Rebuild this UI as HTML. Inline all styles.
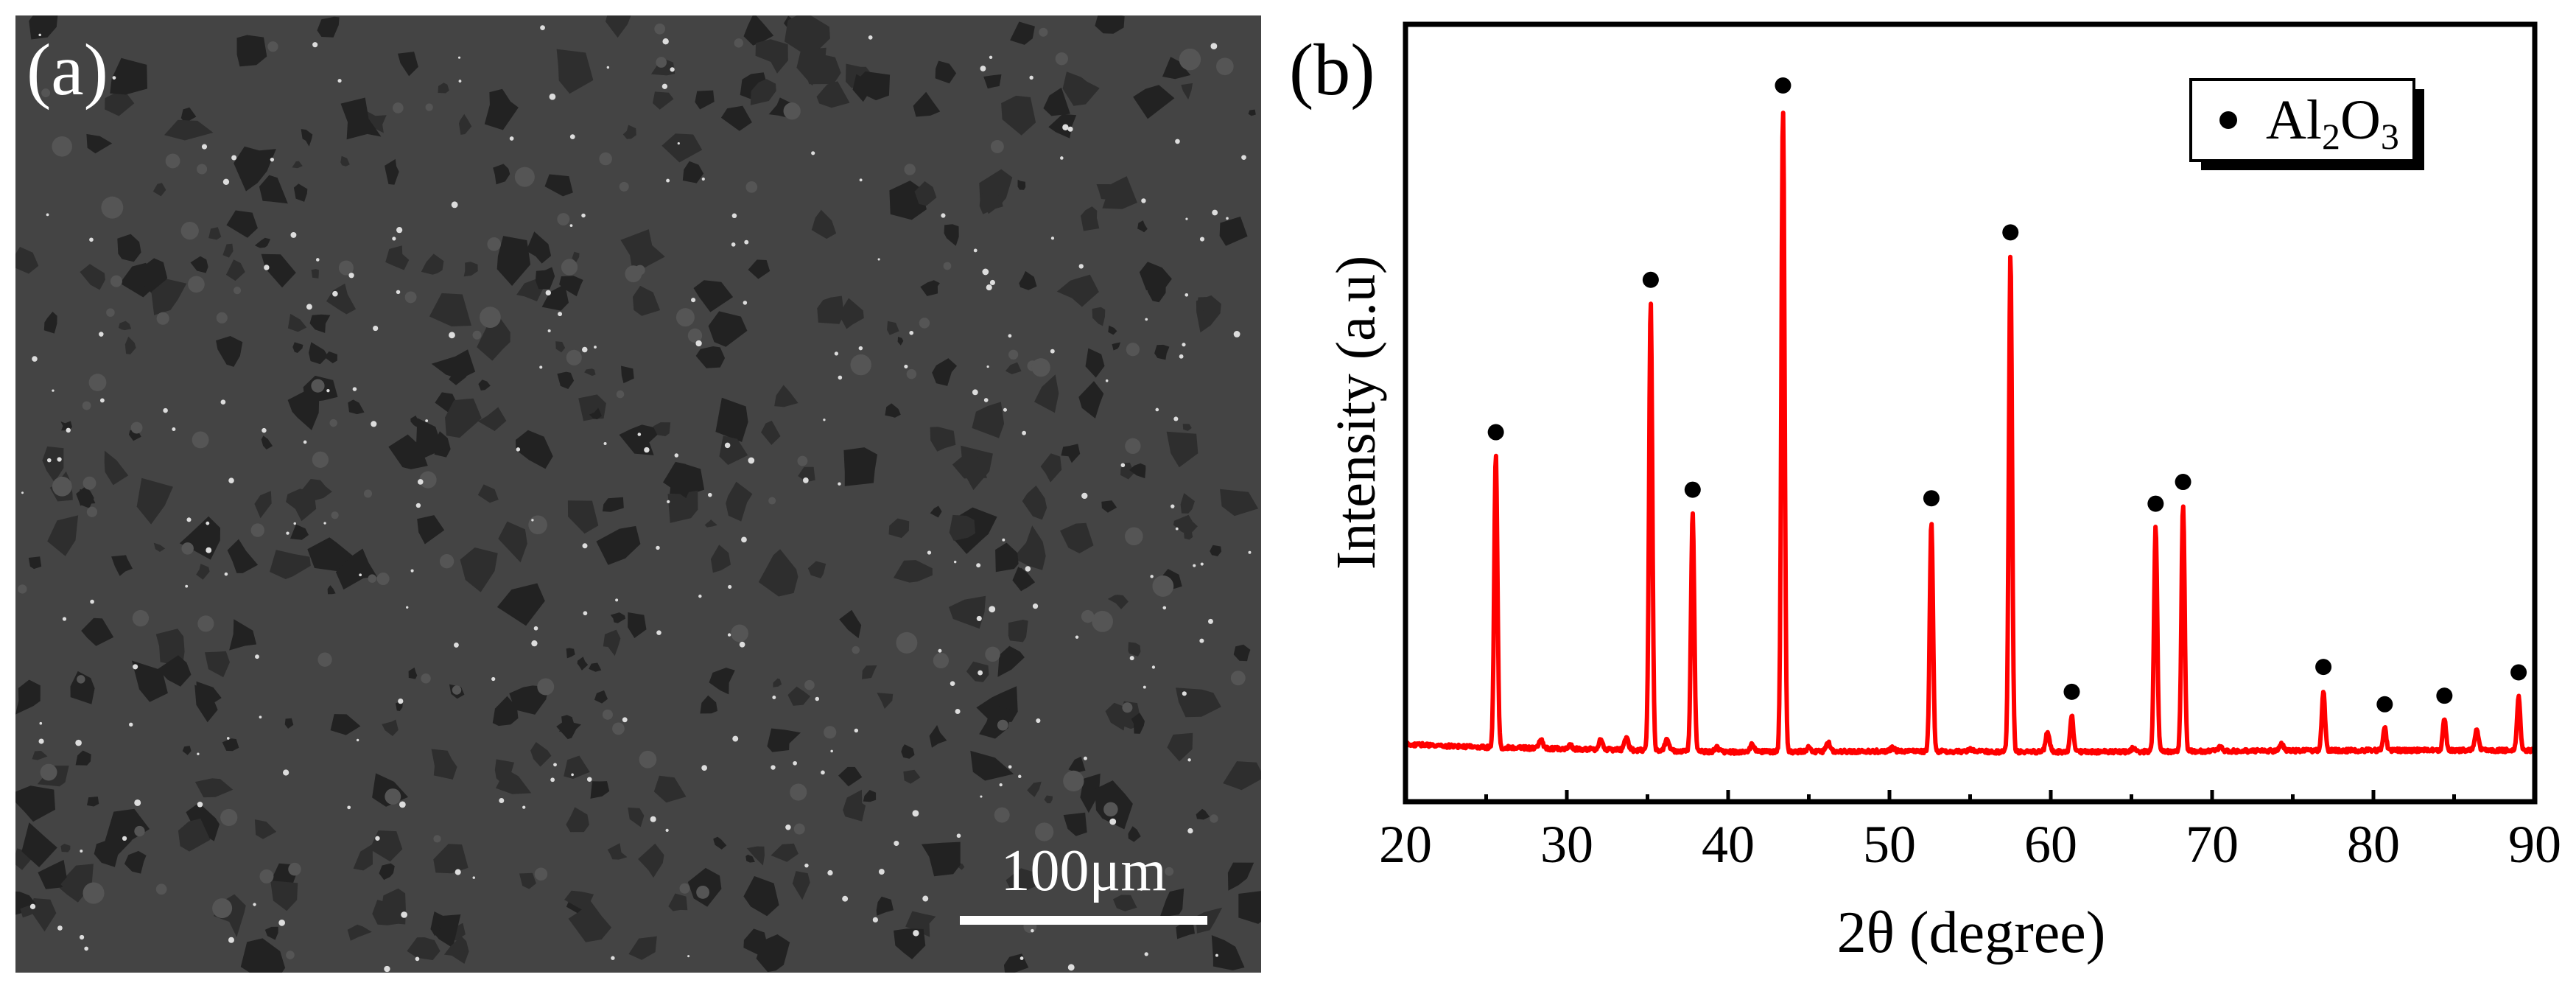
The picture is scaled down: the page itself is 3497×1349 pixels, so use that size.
<!DOCTYPE html>
<html><head><meta charset="utf-8"><style>
html,body{margin:0;padding:0;background:#fff;}
body{width:3497px;height:1349px;overflow:hidden;position:relative;font-family:"Liberation Serif",serif;}
svg text{font-family:"Liberation Serif",serif;}
</style></head><body>
<svg id="fig" width="3497" height="1349" viewBox="0 0 3497 1349" xmlns="http://www.w3.org/2000/svg" style="position:absolute;left:0;top:0" font-family="Liberation Serif, serif">
  <defs><clipPath id="semclip"><rect x="21" y="21" width="1691" height="1299"/></clipPath></defs>
  <g id="sem">
    <rect x="21" y="21" width="1691" height="1299" fill="#444444"/>
    <g id="semtex" clip-path="url(#semclip)"></g>
    <text x="36" y="128" font-size="100" fill="#fff">(a)</text>
    <text x="1471" y="1208" font-size="80" fill="#fff" text-anchor="middle">100μm</text>
    <rect x="1303" y="1243" width="336" height="12" fill="#fff"/>
  </g>
  <text x="1750" y="128" font-size="100" fill="#000">(b)</text>
  <g id="chart"></g>
  <rect x="1908" y="33" width="1533" height="1055" fill="none" stroke="#000" stroke-width="7"/>
  <text x="2676" y="1292" font-size="80" text-anchor="middle">2θ (degree)</text>
  <text transform="translate(1866,560) rotate(-90)" font-size="76" text-anchor="middle">Intensity (a.u)</text>
  <g>
    <rect x="2988" y="121" width="303" height="110" fill="#000"/>
    <rect x="2974" y="108" width="303" height="110" fill="#fff" stroke="#000" stroke-width="4"/>
    <circle cx="3025" cy="163" r="12" fill="#000"/>
    <text x="3076" y="188" font-size="76">Al<tspan font-size="50" dy="14">2</tspan><tspan dy="-14">O</tspan><tspan font-size="50" dy="14">3</tspan></text>
  </g>
</svg>
<script>
// ---- XRD data ----
const peakPos = [25.6, 35.2, 37.8, 43.4, 52.6, 57.5, 61.3, 66.5, 68.2, 76.9, 80.7, 84.4, 89.0];
const peakHeight = [44.5, 64.1, 37.1, 89.1, 36.0, 70.2, 11.1, 35.3, 38.1, 14.3, 9.5, 10.6, 13.6];
const minorPos = [28.4, 30.2, 32.1, 33.7, 36.2, 39.3, 41.5, 45.0, 46.2, 50.2, 55.0, 59.8, 65.1, 70.5, 74.3, 86.4];
const minorHeight = [7.9, 7.3, 7.9, 8.2, 8.0, 7.0, 7.4, 7.0, 7.6, 6.9, 6.8, 8.9, 6.9, 7.0, 7.5, 9.2];
const baseX = [20, 22, 25, 30, 40, 50, 60, 70, 80, 90];
const baseY = [7.4, 7.2, 7.0, 6.8, 6.4, 6.5, 6.4, 6.5, 6.6, 6.6];
const xTicks = [20, 30, 40, 50, 60, 70, 80, 90];
const xTickLabels = ["20", "30", "40", "50", "60", "70", "80", "90"];

const NS = "http://www.w3.org/2000/svg";
const X0 = 1908, X1 = 3441, Y0 = 1088, Y1 = 33;
const xs = v => X0 + (v - 20) / 70 * (X1 - X0);
const ys = v => Y0 - v / 100 * (Y0 - Y1);
const chart = document.getElementById('chart');

function base(x) {
  for (let i = 0; i < baseX.length - 1; i++) {
    if (x <= baseX[i + 1]) {
      const t = (x - baseX[i]) / (baseX[i + 1] - baseX[i]);
      return baseY[i] + t * (baseY[i + 1] - baseY[i]);
    }
  }
  return baseY[baseY.length - 1];
}
function intensity(x) {
  const b = base(x);
  let v = b;
  for (let i = 0; i < peakPos.length; i++) {
    const d = (x - peakPos[i]) / 0.1;
    v += (peakHeight[i] - base(peakPos[i])) * Math.exp(-d * d / 2);
  }
  for (let i = 0; i < minorPos.length; i++) {
    const d = (x - minorPos[i]) / 0.12;
    v += (minorHeight[i] - base(minorPos[i])) * Math.exp(-d * d / 2);
  }
  return v;
}
let nseed = 777;
function nz() { nseed = (nseed * 1103515245 + 12345) % 2147483648; return nseed / 2147483648 - 0.5; }
let pts = [];
for (let x = 20.05; x <= 89.95; x += 0.04) {
  pts.push(xs(x).toFixed(1) + "," + (ys(intensity(x)) + nz() * 5).toFixed(1));
}
const line = document.createElementNS(NS, 'polyline');


line.setAttribute('points', pts.join(' '));
line.setAttribute('fill', 'none');
line.setAttribute('stroke', '#f00');
line.setAttribute('stroke-width', '6');
line.setAttribute('stroke-linejoin', 'round');
chart.appendChild(line);

for (let i = 0; i < peakPos.length; i++) {
  const c = document.createElementNS(NS, 'circle');
  
  
  c.setAttribute('cx', xs(peakPos[i]));
  c.setAttribute('cy', ys(peakHeight[i]) - 32);
  c.setAttribute('r', 11);
  c.setAttribute('fill', '#000');
  chart.appendChild(c);
}
for (let v = 20; v <= 90; v += 5) {
  const major = v % 10 === 0;
  const t = document.createElementNS(NS, 'line');
  
  
  t.setAttribute('x1', xs(v)); t.setAttribute('x2', xs(v));
  t.setAttribute('y1', Y0); t.setAttribute('y2', Y0 - (major ? 16 : 10));
  t.setAttribute('stroke', '#000'); t.setAttribute('stroke-width', '5');
  chart.appendChild(t);
}
for (let i = 0; i < xTicks.length; i++) {
  const tx = document.createElementNS(NS, 'text');
  
  
  tx.setAttribute('x', xs(xTicks[i]));
  tx.setAttribute('y', 1170);
  tx.setAttribute('font-size', '72');
  tx.setAttribute('font-family', 'Liberation Serif, serif');
  tx.setAttribute('text-anchor', 'middle');
  tx.textContent = xTickLabels[i];
  chart.appendChild(tx);
}

// ---- SEM texture (decorative) ----
const tex = document.getElementById('semtex');
let seed = 12345;
function rnd() { seed = (seed * 1103515245 + 12345) % 2147483648; return seed / 2147483648; }
function add(tag, attrs, name) {
  const e = document.createElementNS(NS, tag);
  for (const k in attrs) e.setAttribute(k, attrs[k]);
  
  
  tex.appendChild(e);
}
for (let i = 0; i < 380; i++) {
  const cx = 25 + rnd() * 1680, cy = 25 + rnd() * 1290, r = 6 + rnd() * 24;
  let p = [];
  const n = 5 + Math.floor(rnd() * 3);
  for (let k = 0; k < n; k++) {
    const a = k / n * 6.283 + rnd() * 0.6, rr = r * (0.5 + rnd() * 0.8);
    p.push((cx + Math.cos(a) * rr).toFixed(1) + "," + (cy + Math.sin(a) * rr).toFixed(1));
  }
  add('polygon', {points: p.join(' '), fill: rnd() < 0.5 ? '#222222' : '#2e2e2e'}, 'sem-pore');
}
for (let i = 0; i < 120; i++) {
  add('circle', {cx: 30 + rnd() * 1670, cy: 30 + rnd() * 1280, r: 5 + rnd() * 10, fill: '#555555'}, 'sem-grain');
}
for (let i = 0; i < 260; i++) {
  add('circle', {cx: 25 + rnd() * 1680, cy: 25 + rnd() * 1290, r: 1.5 + rnd() * 3, fill: '#dddddd'}, 'sem-bright-speck');
}
</script>
</body></html>
